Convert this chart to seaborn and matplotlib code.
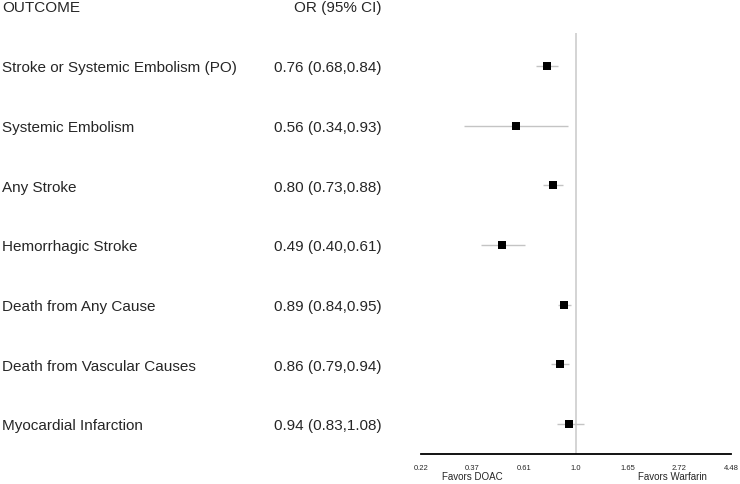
import numpy as np
import pandas as pd
import matplotlib
matplotlib.use("Agg")
import matplotlib.pyplot as plt
import matplotlib.transforms as mtransforms
import seaborn as sns

# Outcomes and odds ratios (95% CI)
outcomes = [
    "Stroke or Systemic Embolism (PO)",
    "Systemic Embolism",
    "Any Stroke",
    "Hemorrhagic Stroke",
    "Death from Any Cause",
    "Death from Vascular Causes",
    "Myocardial Infarction",
]
odds_ratio = [0.76, 0.56, 0.80, 0.49, 0.89, 0.86, 0.94]
ci_low = [0.68, 0.34, 0.73, 0.40, 0.84, 0.79, 0.83]
ci_high = [0.84, 0.93, 0.88, 0.61, 0.95, 0.94, 1.08]

tick_labels = ["0.22", "0.37", "0.61", "1.0", "1.65", "2.72", "4.48"]

df = pd.DataFrame({"outcome": outcomes, "OR": odds_ratio, "lo": ci_low, "hi": ci_high})
df["row"] = np.arange(len(df))

sns.set_style("white")
plt.rcParams["font.family"] = ["Liberation Sans", "DejaVu Sans"]

fig = plt.figure(figsize=(7.4, 4.84), dpi=100)
ax = fig.add_axes([420.7 / 740, 30 / 484, 310.3 / 740, 421 / 484])

# reference line at OR = 1
ax.axvline(1.0, color="#d4d4d4", lw=1.4, zorder=1)

# confidence intervals
ax.hlines(df["row"], df["lo"], df["hi"], color="#c4c4c4", lw=1.0, zorder=2)

# point estimates
sns.scatterplot(data=df, x="OR", y="row", marker="s", s=33, color="black",
                edgecolor="none", ax=ax, zorder=3, legend=False)

ax.set_xscale("log")
ax.set_xlim(np.exp(-1.5), np.exp(1.5))
ax.set_ylim(6.5, -0.55)
ticks = np.exp(np.arange(-3, 4) * 0.5)
ax.set_xticks(ticks)
ax.set_xticklabels(tick_labels, fontsize=5.5)
ax.minorticks_off()
ax.set_yticks([])
ax.set_xlabel("")
ax.set_ylabel("")
for side in ["top", "right", "left"]:
    ax.spines[side].set_visible(False)
ax.spines["bottom"].set_color("black")
ax.spines["bottom"].set_linewidth(1.3)
ax.tick_params(axis="x", direction="out", length=4, width=1.0, color="black", pad=4)

# left-hand text columns (baseline slightly below row centre)
off = 0.105
trans = mtransforms.blended_transform_factory(fig.transFigure, ax.transData)
ax.text(2 / 740, -1 + off, "OUTCOME", transform=trans, fontsize=11, va="baseline", ha="left", clip_on=False)
ax.text(382 / 740, -1 + off, "OR (95% CI)", transform=trans, fontsize=11, va="baseline", ha="right", clip_on=False)
for _, r in df.iterrows():
    ax.text(2 / 740, r["row"] + off, r["outcome"], transform=trans, fontsize=11,
            va="baseline", ha="left", clip_on=False)
    ax.text(382 / 740, r["row"] + off, f"{r['OR']:.2f} ({r['lo']:.2f},{r['hi']:.2f})",
            transform=trans, fontsize=11, va="baseline", ha="right", clip_on=False)

# favors labels under the axis
trans_x = mtransforms.blended_transform_factory(ax.transData, fig.transFigure)
ax.text(np.exp(-1.0), 4.5 / 484, "Favors DOAC", transform=trans_x, fontsize=7,
        ha="center", va="baseline", clip_on=False)
ax.text(np.exp(0.93), 4.5 / 484, "Favors Warfarin", transform=trans_x, fontsize=7,
        ha="center", va="baseline", clip_on=False)

fig.savefig("out.png", dpi=100)
